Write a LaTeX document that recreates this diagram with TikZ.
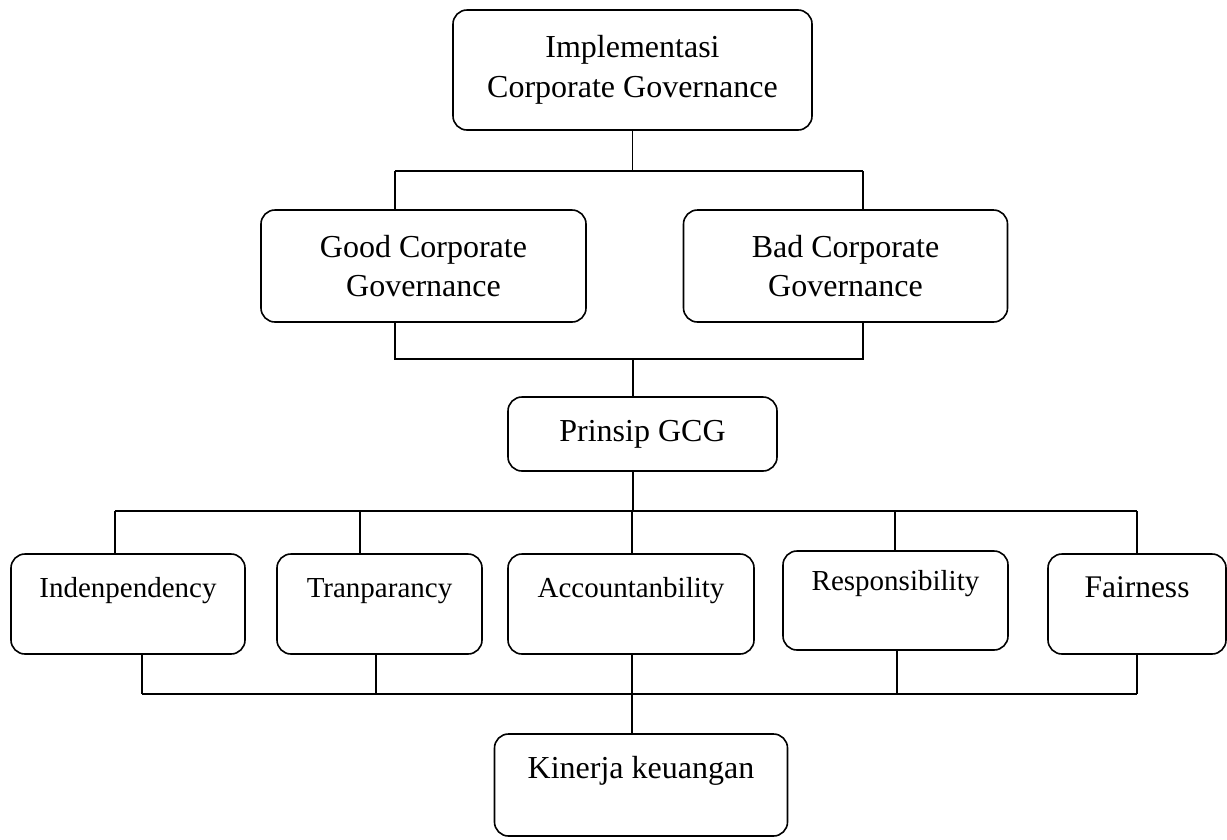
\documentclass[tikz,border=0pt]{standalone}
\usepackage{fontspec}
\setmainfont{Liberation Serif}
\usepackage{tikz}
\usetikzlibrary{positioning,calc}

\begin{document}
\begin{tikzpicture}[x=1pt,y=-1pt,line width=1.6pt,
  box/.style={draw,rounded corners=14pt,align=center,inner sep=0pt,
    font=\fontsize{32}{39.5}\selectfont},
  rowbox/.style={box,font=\fontsize{29}{34}\selectfont}]
\useasboundingbox (0,0) rectangle (1227,839);

\node[box,minimum width=359pt,minimum height=120pt] (top) at (632.5,70) {Implementasi\\Corporate Governance};
\node[box,minimum width=325pt,minimum height=112pt] (good) at (423.5,266) {Good Corporate\\Governance};
\node[box,minimum width=324pt,minimum height=112pt] (bad) at (845.5,266) {Bad Corporate\\Governance};
\node[box,minimum width=269pt,minimum height=74pt] (prinsip) at (642.5,434) {Prinsip GCG};

% principles
\node[rowbox,minimum width=234pt,text height=43pt,text depth=57pt] (indep) at (128,604) {Indenpendency};
\node[rowbox,minimum width=205pt,text height=43pt,text depth=57pt] (tran) at (379.5,604) {Tranparancy};
\node[rowbox,minimum width=246pt,text height=43pt,text depth=57pt] (acc) at (631,604) {Accountanbility};
\node[rowbox,minimum width=225pt,text height=39pt,text depth=60pt] (resp) at (895.5,600.5) {Responsibility};
\node[rowbox,minimum width=178pt,text height=43pt,text depth=57pt,font=\fontsize{31.5}{36}\selectfont] (fair) at (1137,604) {Fairness};

\node[box,minimum width=293pt,text height=44pt,text depth=58pt] (kin) at (641,785) {Kinerja keuangan};

% connectors
\coordinate (b1l) at (395,171);
\coordinate (b1r) at (863,171);
\draw (top.south) -- (top.south |- b1l);
\draw (b1l) -- (b1r);
\draw (b1l) -- (b1l |- good.north);
\draw (b1r) -- (b1r |- bad.north);

\coordinate (b2l) at (395,359);
\coordinate (b2r) at (863,359);
\coordinate (b2m) at (633,359);
\draw (b2l |- good.south) -- (b2l) -- (b2r) -- (b2r |- bad.south);
\draw (b2m) -- (b2m |- prinsip.north);

\coordinate (b3m) at (633,511);
\draw (b3m |- prinsip.south) -- (b3m);
\foreach \x/\n in {115/indep,360/tran,632/acc,895/resp,1137/fair} {
  \coordinate (t\n) at (\x,511);
  \draw (t\n) -- (t\n |- \n.north);
}
\draw (tindep) -- (tfair);

\foreach \x/\n in {142/indep,376/tran,632/acc,897/resp,1137/fair} {
  \coordinate (u\n) at (\x,694);
  \draw (u\n |- \n.south) -- (u\n);
}
\draw (uindep) -- (ufair);
\draw (uacc) -- (uacc |- kin.north);
\end{tikzpicture}
\end{document}
